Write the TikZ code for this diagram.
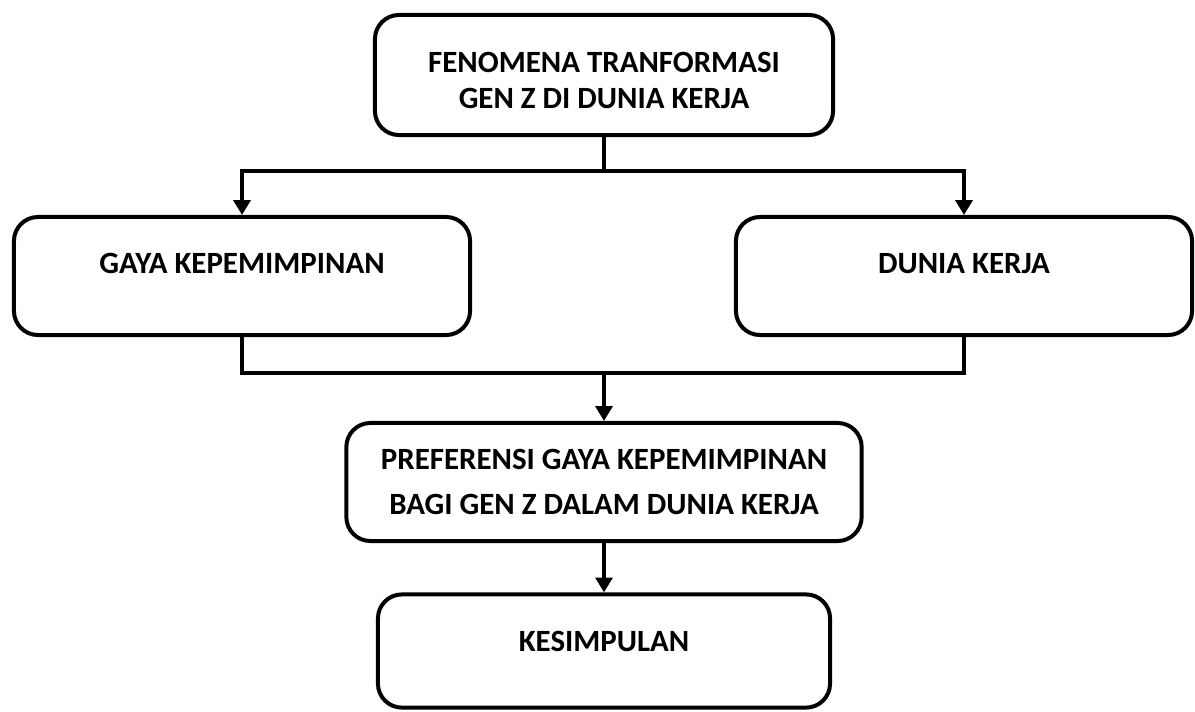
\documentclass[tikz,border=0pt]{standalone}
\usepackage{fontspec}
\setmainfont{Carlito}
\usetikzlibrary{arrows.meta}

\begin{document}
\begin{tikzpicture}[x=0.025cm, y=-0.025cm, line width=0.1cm,
	box/.style={draw, rounded corners=0.6cm, align=center, inner sep=0pt,
		font=\bfseries\fontsize{22}{25}\selectfont},
	liftbox/.style={text height=0.5cm, text depth=#1},
	flow/.style={-{Triangle[width=0.42cm,length=0.37cm]}}]

	\useasboundingbox (0,0) rectangle (1195,711);

	% boxes
	\node[box, minimum width=11.45cm, minimum height=3.0cm] (fenomena) at (604,75)
		{\rule{0pt}{0.78cm}FENOMENA TRANFORMASI\\GEN Z DI DUNIA KERJA};
	\node[box, liftbox=0.65cm, minimum width=11.4cm, minimum height=2.95cm] (gaya) at (242,276)
		{GAYA KEPEMIMPINAN};
	\node[box, liftbox=0.65cm, minimum width=11.4cm, minimum height=2.95cm] (dunia) at (964,276)
		{DUNIA KERJA};
	\node[box, minimum width=12.88cm, minimum height=2.95cm] (preferensi) at (604,482)
		{PREFERENSI GAYA KEPEMIMPINAN\\[7pt]BAGI GEN Z DALAM DUNIA KERJA};
	\node[box, liftbox=0.5cm, minimum width=11.3cm, minimum height=2.83cm] (kesimpulan) at (604,651)
		{KESIMPULAN};

	% connectors
	\coordinate (fork) at (604,171);
	\coordinate (join) at (604,373);
	\draw (fenomena.south) -- (fork);
	\draw[flow] (fork) -| (gaya.north);
	\draw[flow] (fork) -| (dunia.north);
	\draw (gaya.south) |- (join) -| (dunia.south);
	\draw[flow] (join) -- (preferensi.north);
	\draw[flow] (preferensi.south) -- (kesimpulan.north);

\end{tikzpicture}
\end{document}
